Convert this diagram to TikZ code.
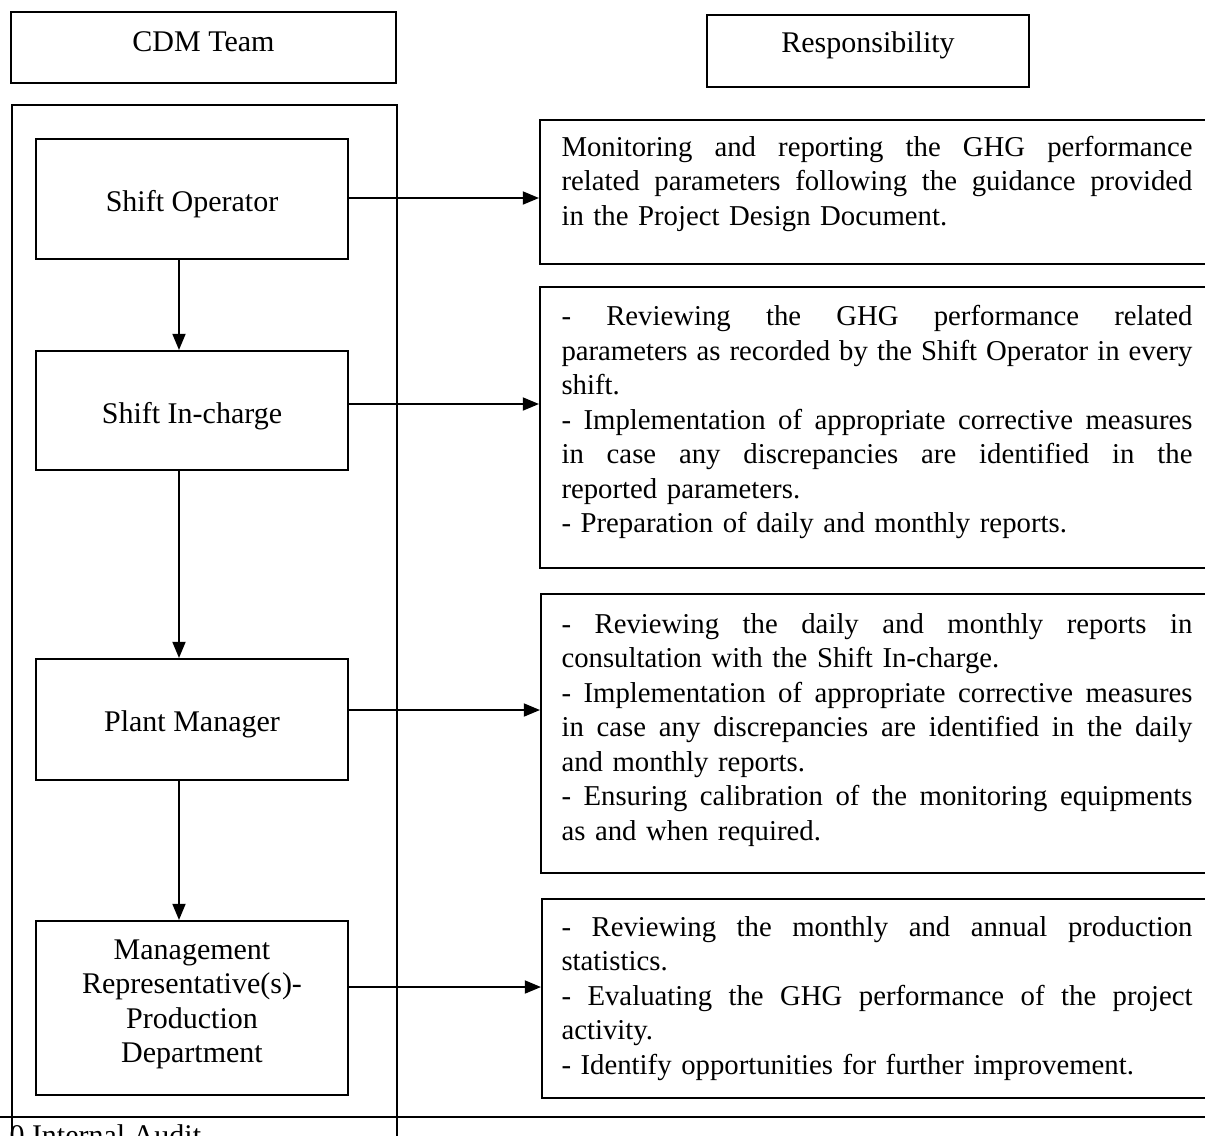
\documentclass[tikz,border=0pt]{standalone}
\usepackage{fontspec}
\setmainfont{Liberation Serif}
\usetikzlibrary{arrows.meta}
\newlength\tw \setlength\tw{252.4pt}
\newcommand\jl[1]{\leavevmode\hbox to\tw{\spaceskip=0.25em plus 1fil\relax #1}}
\begin{document}
\begin{tikzpicture}[x=0.4pt,y=-0.4pt,
  every node/.style={font=\fontsize{12pt}{13.8pt}\selectfont},
  box/.style={draw, line width=0.8pt, inner sep=0pt},
  lbl/.style={inner sep=0pt, anchor=base},
  para/.style={inner sep=0pt, anchor=base west, text width=252.4pt, align=left,
    font=\fontsize{11.5pt}{13.8pt}\selectfont},
  arr/.style={line width=0.8pt, -{Triangle[length=6.5pt,width=5.2pt]}}]
\useasboundingbox (0,0) rectangle (1205,1135);
\clip (0,0) rectangle (1205,1135);
\fill[white] (0,0) rectangle (1205,1135);

% headers
\node[box, minimum width=154pt, minimum height=28.4pt] (cdm) at (203.5,47.5) {};
\node[lbl] (cdmt) at (203.5,51) {CDM Team};
\node[box, minimum width=128.8pt, minimum height=28.8pt] (resp) at (868,51) {};
\node[lbl] (respt) at (868,52) {Responsibility};

% outer team container
\node[box, anchor=north west, minimum width=154pt, minimum height=422.4pt] (team) at (11,104) {};

% left boxes
\node[box, minimum width=124.8pt, minimum height=48pt] (so) at (192,199) {};
\node[lbl] (sot) at (192,211) {Shift Operator};
\node[box, minimum width=124.8pt, minimum height=47.6pt] (ic) at (192,410.5) {};
\node[lbl] (ict) at (192,423) {Shift In-charge};
\node[box, minimum width=124.8pt, minimum height=48.4pt] (pm) at (192,719.5) {};
\node[lbl] (pmt) at (192,731) {Plant Manager};
\node[box, minimum width=124.8pt, minimum height=69.6pt] (mr) at (192,1008) {};
\node[inner sep=0pt, anchor=base, text width=124pt, align=center] (mrt) at (192,959)
  {Management\\Representative(s)-\\Production\\Department};

% right boxes
\node[box, anchor=north west, minimum width=270.4pt, minimum height=57.6pt] (r1) at (539,119) {};
\node[box, anchor=north west, minimum width=270.4pt, minimum height=112.4pt] (r2) at (539,286) {};
\node[box, anchor=north west, minimum width=270pt, minimum height=111.6pt] (r3) at (540,593) {};
\node[box, anchor=north west, minimum width=269.6pt, minimum height=79.6pt] (r4) at (541,898) {};

\node[para] (p1) at (561,156) {%
\jl{Monitoring and reporting the GHG performance}\\
\jl{related parameters following the guidance provided}\\
in the Project Design Document.};

\node[para] (p2) at (561,325.5) {%
\jl{- Reviewing the GHG performance related}\\
\jl{parameters as recorded by the Shift Operator in every}\\
shift.\\
\jl{- Implementation of appropriate corrective measures}\\
\jl{in case any discrepancies are identified in the}\\
reported parameters.\\
- Preparation of daily and monthly reports.};

\node[para] (p3) at (561,633) {%
\jl{- Reviewing the daily and monthly reports in}\\
consultation with the Shift In-charge.\\
\jl{- Implementation of appropriate corrective measures}\\
\jl{in case any discrepancies are identified in the daily}\\
and monthly reports.\\
\jl{- Ensuring calibration of the monitoring equipments}\\
as and when required.};

\node[para] (p4) at (561,936) {%
\jl{- Reviewing the monthly and annual production}\\
statistics.\\
\jl{- Evaluating the GHG performance of the project}\\
activity.\\
- Identify opportunities for further improvement.};

% vertical arrows
\draw[arr] (so.south -| 179,0) -- (ic.north -| 179,0);
\draw[arr] (ic.south -| 179,0) -- (pm.north -| 179,0);
\draw[arr] (pm.south -| 179,0) -- (mr.north -| 179,0);

% horizontal arrows
\draw[arr] (so.east |- 0,198) -- (r1.west |- 0,198);
\draw[arr] (ic.east |- 0,404) -- (r2.west |- 0,404);
\draw[arr] (pm.east |- 0,710) -- (r3.west |- 0,710);
\draw[arr] (mr.east |- 0,987) -- (r4.west |- 0,987);

% bottom
\coordinate (bl) at (0,1117);
\coordinate (br) at (1205,1117);
\draw[line width=0.8pt] (bl) -- (br);
\node[inner sep=0pt, anchor=base west] (audit) at (9,1145) {0 Internal Audit};
\end{tikzpicture}
\end{document}
